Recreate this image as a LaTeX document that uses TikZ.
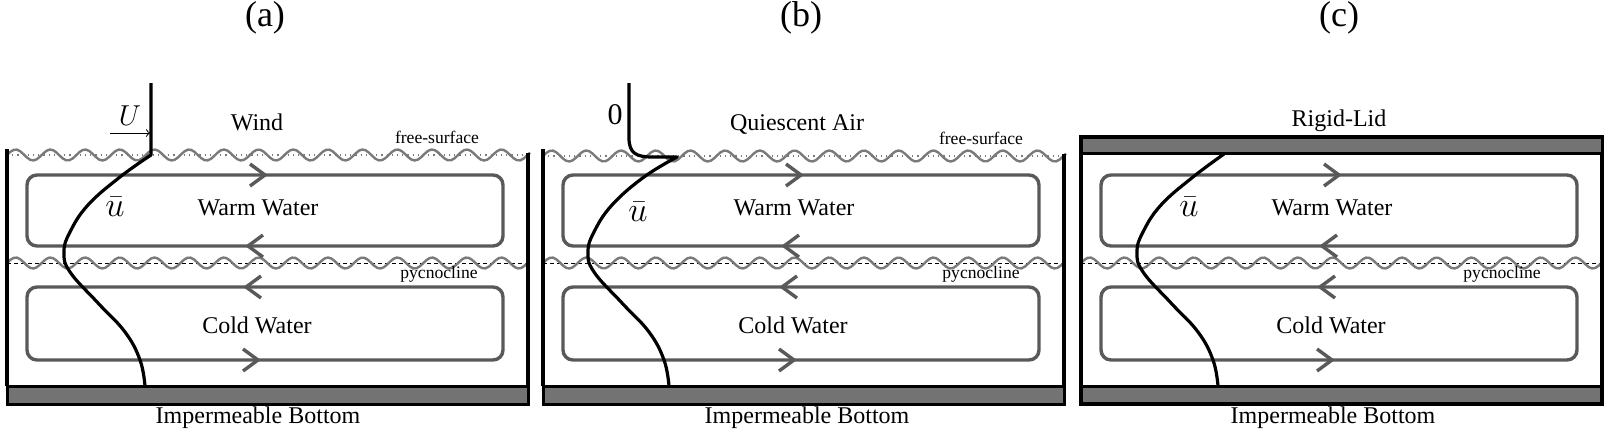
\documentclass[tikz,border=0pt]{standalone}
\usepackage{fontspec}
\setmainfont{Liberation Serif}
\definecolor{grisvague}{gray}{0.48}
\definecolor{grisboucle}{gray}{0.35}
\definecolor{grisfond}{gray}{0.45}
\tikzset{
  mur/.style={line width=1.7pt},
  barre/.style={draw=black, line width=1.5pt, fill=grisfond},
  boucle/.style={draw=grisboucle, line width=1.7pt, rounded corners=5pt},
  chevron/.style={draw=grisboucle, line width=1.7pt},
  vague/.style={grisvague, line width=1.2pt},
  profil/.style={line width=1.6pt, line join=round},
  etiq/.style={font=\fontsize{12}{14}\selectfont},
  petit/.style={font=\fontsize{8.8}{10}\selectfont},
  titre/.style={font=\fontsize{18}{21}\selectfont},
  symb/.style={font=\fontsize{15}{17}\selectfont},
  ubar/.style={font=\fontsize{16.5}{19}\selectfont},
}
\begin{document}
\begin{tikzpicture}[x=0.5pt, y=-0.5pt]
    \useasboundingbox (0,0) rectangle (1610,434);

    % Parties communes aux trois cas
    \foreach \ox/\lab/\py/\ib in {7/a/432/251, 543/b/438/264, 1081/c/421/252} {
        % Pycnocline
        \draw[dashed, dash pattern=on 2pt off 1.5pt, line width=0.4pt] (\ox,263) -- (\ox+521,263);
        \draw[vague] plot[domain=\ox:\ox+521, samples=160] (\x, {263 - 5.5*sin(10.375*(\x-\ox))});

        % Cellules de circulation
        \draw[boucle] (\ox+20,175) rectangle (\ox+496,246);
        \draw[boucle] (\ox+20,287) rectangle (\ox+496,360);
        \draw[chevron] (\ox+243,164) -- (\ox+258,175) -- (\ox+243,186);
        \draw[chevron] (\ox+256,235) -- (\ox+241,246) -- (\ox+256,257);
        \draw[chevron] (\ox+254,276) -- (\ox+239,287) -- (\ox+254,298);
        \draw[chevron] (\ox+236,349) -- (\ox+251,360) -- (\ox+236,371);

        % Fond
        \draw[barre] (\ox,386) rectangle (\ox+521,404);

        % Textes
        \node[titre] (titre-\lab) at (\ox+258,18) {(\lab)};
        \node[etiq] (chaude-\lab) at (\ox+251,208) {Warm Water};
        \node[etiq] (froide-\lab) at (\ox+250,325) {Cold Water};
        \node[petit] (pycno-\lab) at (\ox+\py,274) {pycnocline};
        \node[etiq] (fond-\lab) at (\ox+\ib,418) {Impermeable Bottom};
    }

    % Cas (a) : surface libre avec vent
    \draw[dotted, grisvague, line width=0.6pt] (7,155) -- (528,155);
    \draw[vague] plot[domain=7:530, samples=160] (\x, {155 - 5.5*sin(10.375*(\x-7))});
    \draw[mur] (7,149) -- (7,386);
    \draw[mur] (528,153) -- (528,386);
    \node[etiq] (vent) at (257,122) {Wind};
    \node[petit] (surface-a) at (437,137) {free-surface};
    \draw[profil] (151,83) -- plot[smooth, tension=0.7] coordinates {(151,155) (120,177) (88,205) (70,232) (64,252) (70,272) (98,303) (125,332) (140,360) (145,386)};
    \coordinate (u-depart) at (110,133);
    \coordinate (u-arrivee) at (150,133);
    \draw[->, line width=0.5pt] (u-depart) -- (u-arrivee);
    \node[symb] (vitesse-U) at (130,116) {$U$};
    \node[ubar] (ubar-a) at (115,207) {$\bar{u}$};

    % Cas (b) : surface libre, air au repos
    \draw[dotted, grisvague, line width=0.6pt] (543,156) -- (1064,156);
    \draw[vague] plot[domain=543:1066, samples=160] (\x, {156 - 5.5*sin(10.375*(\x-543))});
    \draw[mur] (543,149) -- (543,386);
    \draw[mur] (1064,154) -- (1064,386);
    \node[etiq] (air) at (797,124) {Quiescent Air};
    \node[petit] (surface-b) at (981,138) {free-surface};
    \draw[profil] (629,83) -- (629,138) .. controls (629,153) and (636,157) .. (652,157) -- plot[smooth, tension=0.7] coordinates {(677,157) (644,177) (612,205) (594,232) (588,252) (594,272) (622,303) (649,332) (664,360) (669,386)};
    \node[symb] (zero) at (615,115) {0};
    \node[ubar] (ubar-b) at (638,212) {$\bar{u}$};

    % Cas (c) : couvercle rigide
    \draw[mur] (1081,137) rectangle (1602,404);
    \draw[barre] (1081,137) rectangle (1602,153);
    \node[etiq] (couvercle) at (1339,121) {Rigid-Lid};
    \draw[profil] plot[smooth, tension=0.7] coordinates {(1224,154) (1193,177) (1161,205) (1143,232) (1137,252) (1143,272) (1171,303) (1198,332) (1213,360) (1218,386)};
    \node[ubar] (ubar-c) at (1189,207) {$\bar{u}$};
\end{tikzpicture}
\end{document}
